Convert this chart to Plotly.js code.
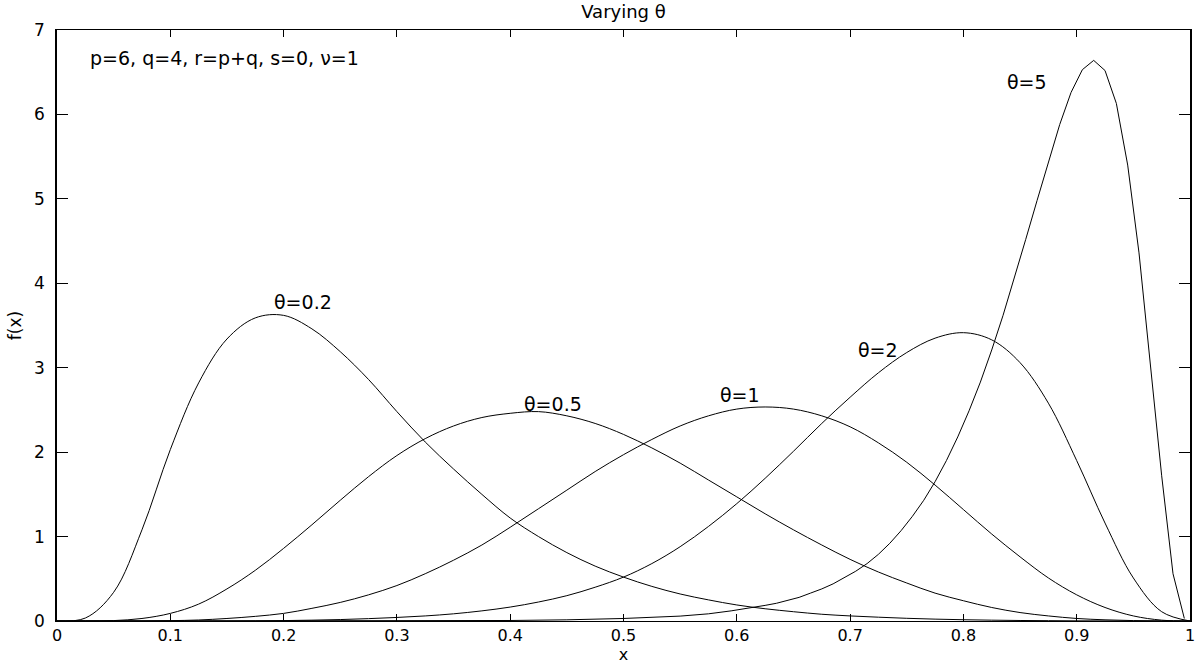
<!DOCTYPE html>
<html>
<head>
<meta charset="utf-8">
<script src="https://cdn.plot.ly/plotly-3.0.1.min.js"></script>
<style>
html,body{margin:0;padding:0;background:#fff;}
#chart{width:1197px;height:664px;}
</style>
</head>
<body>
<div id="chart"></div>
<script>
// ---- data ----
const seriesNames = ["θ=0.2", "θ=0.5", "θ=1", "θ=2", "θ=5"];

// common x grid (step 0.025) for the four smooth curves
const xGrid = [0, 0.025, 0.05, 0.075, 0.1, 0.125, 0.15, 0.175, 0.2, 0.225, 0.25, 0.275, 0.3, 0.325, 0.35, 0.375, 0.4, 0.425, 0.45, 0.475, 0.5, 0.525, 0.55, 0.575, 0.6, 0.625, 0.65, 0.675, 0.7, 0.725, 0.75, 0.775, 0.8, 0.825, 0.85, 0.875, 0.9, 0.925, 0.95, 0.975, 1];

const yTheta02 = [0, 0.035, 0.34, 1.08, 2.03, 2.82, 3.34, 3.59, 3.62, 3.46, 3.19, 2.86, 2.48, 2.12, 1.80, 1.50, 1.22, 1.00, 0.81, 0.65, 0.52, 0.41, 0.32, 0.25, 0.19, 0.145, 0.11, 0.08, 0.06, 0.045, 0.032, 0.022, 0.015, 0.01, 0.006, 0.004, 0.002, 0.001, 0, 0, 0];
const yTheta05 = [0, 0.001, 0.005, 0.03, 0.09, 0.20, 0.38, 0.60, 0.86, 1.14, 1.43, 1.71, 1.96, 2.16, 2.31, 2.41, 2.46, 2.48, 2.43, 2.34, 2.21, 2.05, 1.87, 1.67, 1.47, 1.27, 1.08, 0.90, 0.73, 0.58, 0.45, 0.33, 0.24, 0.16, 0.10, 0.06, 0.03, 0.014, 0.005, 0.001, 0];
const yTheta1 = [0, 0, 0, 0.001, 0.004, 0.012, 0.03, 0.055, 0.09, 0.15, 0.22, 0.31, 0.42, 0.56, 0.72, 0.90, 1.11, 1.33, 1.55, 1.77, 1.97, 2.15, 2.31, 2.43, 2.51, 2.535, 2.51, 2.43, 2.30, 2.11, 1.88, 1.61, 1.32, 1.03, 0.76, 0.51, 0.31, 0.16, 0.06, 0.01, 0];
const yTheta2 = [0, 0, 0, 0, 0, 0, 0.001, 0.002, 0.005, 0.01, 0.017, 0.028, 0.042, 0.06, 0.085, 0.12, 0.165, 0.225, 0.30, 0.40, 0.52, 0.68, 0.88, 1.12, 1.39, 1.69, 2.01, 2.34, 2.65, 2.94, 3.18, 3.35, 3.415, 3.33, 3.06, 2.58, 1.90, 1.16, 0.51, 0.11, 0];

// θ=5 has its own (denser) x values near the sharp peak
const xTheta5 = [0, 0.2, 0.3, 0.4, 0.45, 0.5, 0.55, 0.575, 0.595, 0.605, 0.615, 0.625, 0.635, 0.645, 0.655, 0.665, 0.675, 0.685, 0.695, 0.705, 0.715, 0.725, 0.735, 0.745, 0.755, 0.765, 0.775, 0.785, 0.795, 0.805, 0.815, 0.825, 0.835, 0.845, 0.855, 0.865, 0.875, 0.885, 0.895, 0.905, 0.915, 0.925, 0.935, 0.945, 0.955, 0.965, 0.975, 0.985, 0.995];
const yTheta5 = [0, 0, 0.001, 0.006, 0.014, 0.03, 0.058, 0.085, 0.12, 0.14, 0.16, 0.185, 0.21, 0.245, 0.28, 0.33, 0.38, 0.44, 0.51, 0.59, 0.68, 0.79, 0.92, 1.07, 1.24, 1.43, 1.65, 1.90, 2.18, 2.49, 2.83, 3.21, 3.62, 4.06, 4.52, 4.98, 5.44, 5.88, 6.26, 6.53, 6.64, 6.52, 6.13, 5.40, 4.36, 3.08, 1.72, 0.56, 0.03];

// label anchor positions (data units) for each curve label
const labelX = [0.19, 0.41, 0.583, 0.705, 0.837];
const labelY = [3.78, 2.57, 2.68, 3.21, 6.39];

const infoText = "p=6, q=4, r=p+q, s=0, ν=1";
const xTickVals = [0, 0.1, 0.2, 0.3, 0.4, 0.5, 0.6, 0.7, 0.8, 0.9, 1];
const xTickText = ["0", "0.1", "0.2", "0.3", "0.4", "0.5", "0.6", "0.7", "0.8", "0.9", "1"];
const yTickVals = [0, 1, 2, 3, 4, 5, 6, 7];

// ---- chart ----
const FONT = "DejaVu Sans, Liberation Sans, Arial, sans-serif";
const xs = [xGrid, xGrid, xGrid, xGrid, xTheta5];
const ys = [yTheta02, yTheta05, yTheta1, yTheta2, yTheta5];

const traces = xs.map((x, i) => ({
  type: "scatter",
  mode: "lines",
  name: seriesNames[i],
  x: x,
  y: ys[i],
  line: {color: "#000", width: 1, shape: i === 4 ? "linear" : "spline", smoothing: 1},
  hoverinfo: "x+y+name"
}));

const annotations = seriesNames.map((t, i) => ({
  x: labelX[i], y: labelY[i], xref: "x", yref: "y",
  text: t, showarrow: false, xanchor: "left", yanchor: "middle",
  font: {family: FONT, size: 19, color: "#000"}
}));
annotations.push({
  x: 0.027, y: 6.67, xref: "x", yref: "y", text: infoText, showarrow: false,
  xanchor: "left", yanchor: "middle", font: {family: FONT, size: 19, color: "#000"}
});

const layout = {
  width: 1197, height: 664,
  paper_bgcolor: "#fff", plot_bgcolor: "#fff",
  margin: {l: 57, r: 7, t: 30, b: 43, pad: 0},
  showlegend: false,
  font: {family: FONT, size: 16, color: "#000"},
  title: {text: "Varying θ", x: 0.5, xref: "paper", y: 0.982, yref: "container", yanchor: "middle",
          font: {family: FONT, size: 18, color: "#000"}},
  xaxis: {
    range: [0, 1], tickvals: xTickVals, ticktext: xTickText,
    showline: true, linecolor: "#000", linewidth: 1, mirror: "ticks",
    ticks: "inside", ticklen: 7, tickcolor: "#000", tickwidth: 1,
    showgrid: false, zeroline: false, automargin: false,
    tickfont: {family: FONT, size: 16, color: "#000"},
    title: {text: "x", standoff: 4, font: {family: FONT, size: 16, color: "#000"}}
  },
  yaxis: {
    range: [0, 7], tickvals: yTickVals,
    showline: true, linecolor: "#000", linewidth: 1.5, mirror: "ticks",
    ticks: "inside", ticklen: 11, tickcolor: "#000", tickwidth: 1,
    showgrid: false, zeroline: false, automargin: false,
    ticklabelstandoff: 7,
    tickfont: {family: FONT, size: 17, color: "#000"},
    title: {text: "f(x)", standoff: 8, font: {family: FONT, size: 17, color: "#000"}}
  },
  annotations: annotations
};

Plotly.newPlot("chart", traces, layout, {displayModeBar: false});
</script>
</body>
</html>
